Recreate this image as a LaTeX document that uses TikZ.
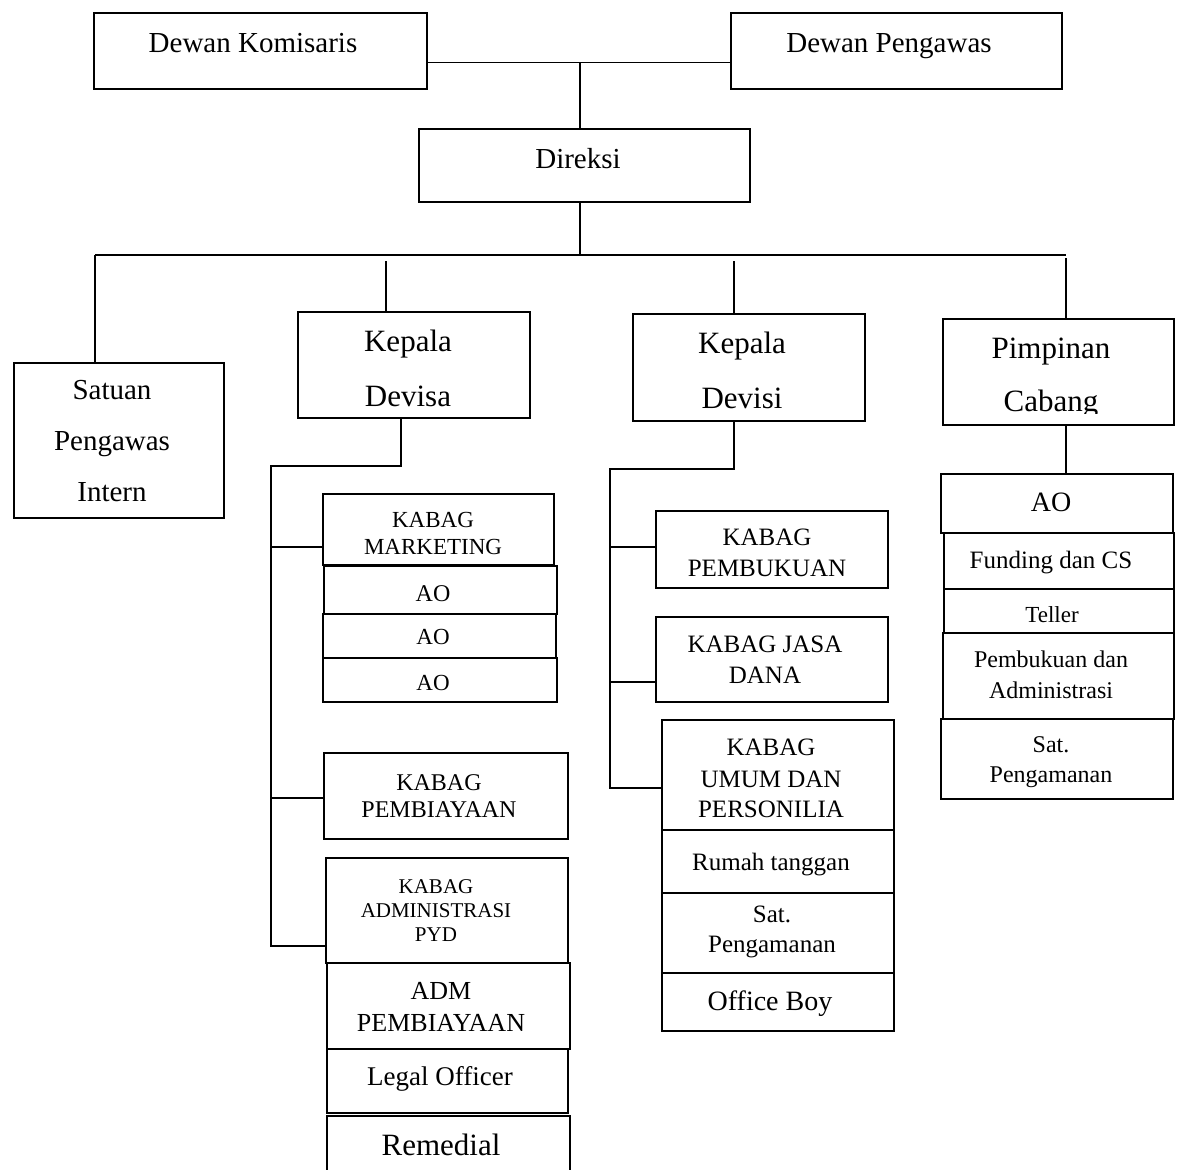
\documentclass[tikz,border=0pt]{standalone}
\usepackage{fontspec}
\setmainfont{Liberation Serif}
\newcommand\obox[5]{\node[box, minimum width={#4-#2}, minimum height={#5-#3}] (#1) at (#2,#3) {};}
\newcommand\fsz[1]{\fontsize{#1}{#1}\selectfont}
\begin{document}
\begin{tikzpicture}[x=1pt,y=-1pt,
  box/.style={draw, line width=1.8pt, anchor=north west, inner sep=0pt},
  ln/.style={line width=1.1pt},
  lbl/.style={anchor=base, inner sep=0pt}]
\clip (0,0) rectangle (1181,1170);
\fill[white] (0,0) rectangle (1181,1170);
% boxes
\obox{dk}{93}{12}{426}{88}
\obox{dp}{730}{12}{1061}{88}
\obox{dir}{418}{128}{749}{201}
\obox{spi}{13}{362}{223}{517}
\obox{kdsa}{297}{311}{529}{417}
\obox{kdsi}{632}{313}{864}{420}
\obox{pc}{942}{318}{1173}{424}
\obox{km}{322}{493}{553}{564}
\obox{aoa}{323}{565}{556}{613}
\obox{aob}{322}{613}{555}{657}
\obox{aoc}{322}{657}{556}{701}
\obox{kp}{323}{752}{567}{838}
\obox{ka}{325}{857}{567}{962}
\obox{adm}{326}{962}{569}{1048}
\obox{lo}{326}{1048}{567}{1112}
\obox{rem}{326}{1115}{569}{1200}
\obox{kpb}{655}{510}{887}{587}
\obox{kjd}{655}{616}{887}{701}
\obox{kup}{661}{719}{893}{829}
\obox{rt}{661}{829}{893}{892}
\obox{spb}{661}{892}{893}{972}
\obox{ob}{661}{972}{893}{1030}
\obox{aod}{940}{473}{1172}{532}
\obox{fcs}{943}{532}{1173}{588}
\obox{tel}{943}{588}{1173}{632}
\obox{pa}{942}{632}{1173}{718}
\obox{spc}{940}{718}{1172}{798}
% connectors top
\coordinate (jt) at (580,62);
\draw[ln] ([yshift=-12pt]dk.east) -- ([yshift=-12pt]dp.west);
\draw[ln] (jt) -- (jt |- dir.north);
\coordinate (bus) at (580,255);
\coordinate (bl) at (95,255);
\coordinate (br) at (1066,255);
\draw[ln] (bus |- dir.south) -- (bus);
\draw[ln] (bl) -- (br);
\draw[ln] (bl) -- (bl |- spi.north);
\coordinate (d2) at (386,261);
\coordinate (d3) at (734,261);
\coordinate (d4) at (1066,258);
\draw[ln] (d2) -- (d2 |- kdsa.north);
\draw[ln] (d3) -- (d3 |- kdsi.north);
\draw[ln] (d4) -- (d4 |- pc.north);
% left branch
\coordinate (la) at (401,466);
\coordinate (lv) at (271,466);
\coordinate (lb) at (271,946);
\draw[ln] (la |- kdsa.south) -- (la) -- (lv) -- (lb) -- (lb -| ka.west);
\coordinate (m1) at (271,547);
\coordinate (m2) at (271,798);
\draw[ln] (m1) -- (m1 -| km.west);
\draw[ln] (m2) -- (m2 -| kp.west);
% middle branch
\coordinate (ma) at (734,469);
\coordinate (mv) at (610,469);
\coordinate (mb) at (610,788);
\draw[ln] (ma |- kdsi.south) -- (ma) -- (mv) -- (mb) -- (mb -| kup.west);
\coordinate (n1) at (610,547);
\coordinate (n2) at (610,682);
\draw[ln] (n1) -- (n1 -| kpb.west);
\draw[ln] (n2) -- (n2 -| kjd.west);
% right branch
\draw[ln] (d4 |- pc.south) -- (d4 |- aod.north);
% labels
\node[lbl,font=\fsz{29}] (t1) at (253,52) {Dewan Komisaris};
\node[lbl,font=\fsz{29}] (t2) at (889,52) {Dewan Pengawas};
\node[lbl,font=\fsz{29}] (t3) at (578,168) {Direksi};
\node[lbl,font=\fsz{29}] (t4) at (112,399) {Satuan};
\node[lbl,font=\fsz{29}] (t5) at (112,450) {Pengawas};
\node[lbl,font=\fsz{29}] (t6) at (112,501) {Intern};
\node[lbl,font=\fsz{31}] (t7) at (408,351) {Kepala};
\node[lbl,font=\fsz{31}] (t8) at (408,406) {Devisa};
\node[lbl,font=\fsz{31}] (t9) at (742,353) {Kepala};
\node[lbl,font=\fsz{31}] (t10) at (742,408) {Devisi};
\node[lbl,font=\fsz{31}] (t11) at (1051,358) {Pimpinan};
\begin{scope}
\clip (942,380) rectangle (1173,413);
\node[lbl,font=\fsz{31}] (t12) at (1051,411) {Cabang};
\end{scope}
\node[lbl,font=\fsz{23}] (t13) at (433,527) {KABAG};
\node[lbl,font=\fsz{23}] (t14) at (433,554) {MARKETING};
\node[lbl,font=\fsz{24}] (t15) at (433,601) {AO};
\node[lbl,font=\fsz{23}] (t16) at (433,644) {AO};
\node[lbl,font=\fsz{23}] (t17) at (433,690) {AO};
\node[lbl,font=\fsz{24}] (t18) at (439,790) {KABAG};
\node[lbl,font=\fsz{24}] (t19) at (439,817) {PEMBIAYAAN};
\node[lbl,font=\fsz{21}] (t20) at (436,893) {KABAG};
\node[lbl,font=\fsz{21}] (t21) at (436,917) {ADMINISTRASI};
\node[lbl,font=\fsz{21}] (t22) at (436,941) {PYD};
\node[lbl,font=\fsz{26}] (t23) at (441,999) {ADM};
\node[lbl,font=\fsz{26}] (t24) at (441,1031) {PEMBIAYAAN};
\node[lbl,font=\fsz{27}] (t25) at (440,1085) {Legal Officer};
\node[lbl,font=\fsz{31}] (t26) at (441,1155) {Remedial};
\node[lbl,font=\fsz{25}] (t27) at (767,545) {KABAG};
\node[lbl,font=\fsz{25}] (t28) at (767,576) {PEMBUKUAN};
\node[lbl,font=\fsz{25}] (t29) at (765,652) {KABAG JASA};
\node[lbl,font=\fsz{25}] (t30) at (765,683) {DANA};
\node[lbl,font=\fsz{25}] (t31) at (771,755) {KABAG};
\node[lbl,font=\fsz{25}] (t32) at (771,787) {UMUM DAN};
\node[lbl,font=\fsz{25}] (t33) at (771,817) {PERSONILIA};
\node[lbl,font=\fsz{25}] (t34) at (771,870) {Rumah tanggan};
\node[lbl,font=\fsz{25}] (t35) at (772,922) {Sat.};
\begin{scope}
\clip (661,930) rectangle (893,958);
\node[lbl,font=\fsz{25}] (t36) at (772,952) {Pengamanan};
\end{scope}
\node[lbl,font=\fsz{28}] (t37) at (770,1010) {Office Boy};
\node[lbl,font=\fsz{28}] (t38) at (1051,511) {AO};
\node[lbl,font=\fsz{25}] (t39) at (1051,568) {Funding dan CS};
\node[lbl,font=\fsz{23}] (t40) at (1052,622) {Teller};
\node[lbl,font=\fsz{24}] (t41) at (1051,667) {Pembukuan dan};
\node[lbl,font=\fsz{24}] (t42) at (1051,698) {Administrasi};
\node[lbl,font=\fsz{24}] (t43) at (1051,752) {Sat.};
\node[lbl,font=\fsz{24}] (t44) at (1051,782) {Pengamanan};
\end{tikzpicture}
\end{document}
